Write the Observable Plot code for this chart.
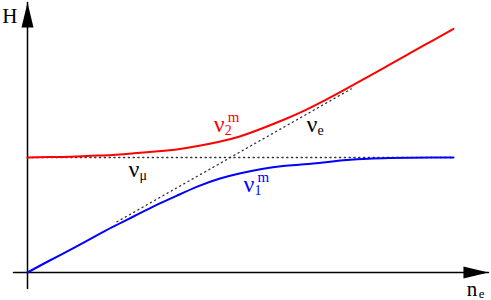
<!DOCTYPE html>
<html>
<head>
<meta charset="utf-8">
<script src="https://cdn.jsdelivr.net/npm/d3@7"></script>
<script src="https://cdn.jsdelivr.net/npm/@observablehq/plot@0.6"></script>
<style>
  html, body { margin: 0; padding: 0; background: white; }
  svg { display: block; }
</style>
</head>
<body>
<div id="chart"></div>
<script>
// electron density (arbitrary units)
const nE = [0, 5, 10, 15, 20, 25, 30, 35, 40, 45, 50, 55, 60, 65, 70, 75, 80, 85, 90, 95, 100];
// upper matter eigenstate nu2^m
const hNu2 = [27.0, 27.1, 27.2, 27.4, 27.6, 28.0, 28.4, 28.9, 29.7, 30.7, 32.0, 33.8, 35.8, 38.0, 40.5, 43.2, 46.0, 48.8, 51.6, 54.4, 57.2];
// lower matter eigenstate nu1^m
const hNu1 = [0.0, 2.7, 5.3, 8.0, 10.7, 13.2, 15.7, 18.0, 20.2, 22.0, 23.3, 24.3, 25.0, 25.4, 25.9, 26.4, 26.7, 26.85, 26.95, 27.0, 27.0];
// flavour levels (dotted)
const muX = [0, 100];
const muH = [27.0, 27.0];
const eX = [21, 76];
const eH = [11.9, 43.1];
// axes extents
const axisX = [-3.3, 108.2];
const axisY = [-3.75, 63.4];
// labels
const labelText = ["ν", "ν", "ν", "ν"];
const labelSub = ["2", "e", "μ", "1"];
const labelSup = ["m", "", "", "m"];
const labelX = [43.7, 65.5, 23.7, 50.7];
const labelH = [32.9, 32.9, 22.5, 18.8];
const labelColor = ["#ff0000", "#000000", "#000000", "#0000ff"];
const axisTitles = ["H", "n"];
const axisTitleX = [-5.9, 103.1];
const axisTitleH = [58.5, -5.6];

const red = "#ff0000", blue = "#0000ff";
const serif = "Liberation Serif, DejaVu Serif, Times New Roman, serif";

const curve2 = nE.map((x, i) => ({x, h: hNu2[i]}));
const curve1 = nE.map((x, i) => ({x, h: hNu1[i]}));
const muLine = muX.map((x, i) => ({x, h: muH[i]}));
const eLine = eX.map((x, i) => ({x, h: eH[i]}));
const labels = labelText.map((t, i) => ({t, sub: labelSub[i], sup: labelSup[i], x: labelX[i], h: labelH[i], c: labelColor[i]}));
const titles = axisTitles.map((t, i) => ({t, x: axisTitleX[i], h: axisTitleH[i]}));

const arrowHead = {
  draw(ctx) {
    ctx.moveTo(0, 0);
    ctx.lineTo(6, 25);
    ctx.lineTo(-6, 25);
    ctx.closePath();
  }
};

const plot = Plot.plot({
  width: 491,
  height: 300,
  marginLeft: 27,
  marginRight: 38,
  marginTop: 16.4,
  marginBottom: 28,
  x: {domain: [0, 100], axis: null},
  y: {domain: [0, 60], axis: null},
  style: {background: "white", overflow: "visible"},
  marks: [
    // axes
    Plot.line([{x: axisX[0], h: 0}, {x: axisX[1], h: 0}], {x: "x", y: "h", stroke: "black", strokeWidth: 1.5}),
    Plot.line([{x: 0, h: axisY[0]}, {x: 0, h: axisY[1]}], {x: "x", y: "h", stroke: "black", strokeWidth: 1.5}),
    Plot.dot([{x: 0, h: axisY[1]}], {x: "x", y: "h", symbol: arrowHead, fill: "black", stroke: "none", rotate: 0}),
    Plot.dot([{x: axisX[1], h: 0}], {x: "x", y: "h", symbol: arrowHead, fill: "black", stroke: "none", rotate: 90}),
    // dotted flavour levels
    Plot.line(muLine, {x: "x", y: "h", stroke: "#333", strokeWidth: 1.3, strokeDasharray: "1.2,3.6"}),
    Plot.line(eLine, {x: "x", y: "h", stroke: "#333", strokeWidth: 1.3, strokeDasharray: "1.2,3.6"}),
    // eigenstates
    Plot.line(curve2, {x: "x", y: "h", stroke: red, strokeWidth: 2, curve: "natural"}),
    Plot.line(curve1, {x: "x", y: "h", stroke: blue, strokeWidth: 2, curve: "natural"}),
    // labels
    Plot.text(labels, {x: "x", y: "h", text: "t", fill: "c", textAnchor: "start", lineAnchor: "bottom", fontSize: 24, fontFamily: serif}),
    Plot.text(labels, {x: "x", y: "h", text: "sub", fill: "c", textAnchor: "start", lineAnchor: "bottom", fontSize: 14, fontFamily: serif, dx: 11, dy: 3}),
    Plot.text(labels, {x: "x", y: "h", text: "sup", fill: "c", textAnchor: "start", lineAnchor: "bottom", fontSize: 15, fontFamily: serif, dx: 14, dy: -10}),
    Plot.text(titles, {x: "x", y: "h", text: "t", fill: "black", textAnchor: "start", lineAnchor: "bottom", fontSize: 21, fontFamily: serif}),
    Plot.text(titles.slice(1), {x: "x", y: "h", text: () => "e", fill: "black", textAnchor: "start", lineAnchor: "bottom", fontSize: 13, fontFamily: serif, dx: 12, dy: 2})
  ]
});
document.getElementById("chart").appendChild(plot);
</script>
</body>
</html>
